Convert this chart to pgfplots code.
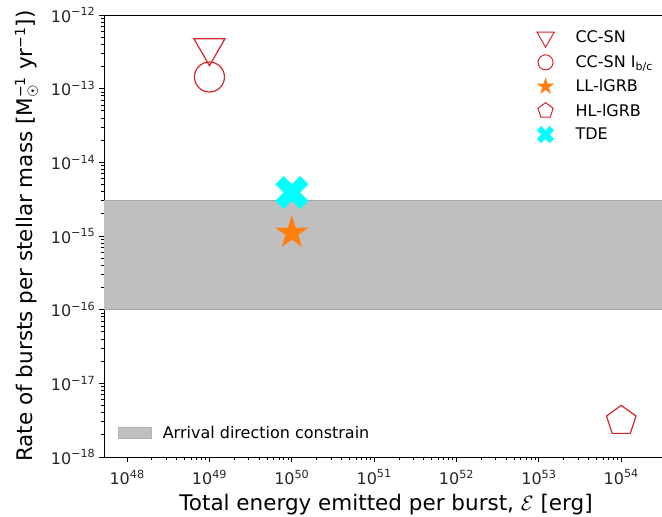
\documentclass[border=0pt]{standalone}
\usepackage{pgfplots}
\pgfplotsset{compat=1.18}
\usepackage{fontspec}
\setmainfont{DejaVu Sans}
\usetikzlibrary{plotmarks}
\definecolor{tabred}{HTML}{D62728}
\definecolor{taborange}{HTML}{FF7F0E}
\definecolor{cyanx}{HTML}{00FFFF}
\definecolor{bandgray}{HTML}{BFBFBF}
\pgfdeclareplotmark{fstar}{%
  \pgfpathmoveto{\pgfpointpolar{90}{\pgfplotmarksize}}%
  \pgfpathlineto{\pgfpointpolar{126}{0.382\pgfplotmarksize}}%
  \pgfpathlineto{\pgfpointpolar{162}{\pgfplotmarksize}}%
  \pgfpathlineto{\pgfpointpolar{198}{0.382\pgfplotmarksize}}%
  \pgfpathlineto{\pgfpointpolar{234}{\pgfplotmarksize}}%
  \pgfpathlineto{\pgfpointpolar{270}{0.382\pgfplotmarksize}}%
  \pgfpathlineto{\pgfpointpolar{306}{\pgfplotmarksize}}%
  \pgfpathlineto{\pgfpointpolar{342}{0.382\pgfplotmarksize}}%
  \pgfpathlineto{\pgfpointpolar{18}{\pgfplotmarksize}}%
  \pgfpathlineto{\pgfpointpolar{54}{0.382\pgfplotmarksize}}%
  \pgfpathclose
  \pgfusepathqfill
}
\pgfdeclareplotmark{fX}{%
  \pgfpathmoveto{\pgfpoint{-0.5\pgfplotmarksize}{-\pgfplotmarksize}}%
  \pgfpathlineto{\pgfpoint{0pt}{-0.5\pgfplotmarksize}}%
  \pgfpathlineto{\pgfpoint{0.5\pgfplotmarksize}{-\pgfplotmarksize}}%
  \pgfpathlineto{\pgfpoint{\pgfplotmarksize}{-0.5\pgfplotmarksize}}%
  \pgfpathlineto{\pgfpoint{0.5\pgfplotmarksize}{0pt}}%
  \pgfpathlineto{\pgfpoint{\pgfplotmarksize}{0.5\pgfplotmarksize}}%
  \pgfpathlineto{\pgfpoint{0.5\pgfplotmarksize}{\pgfplotmarksize}}%
  \pgfpathlineto{\pgfpoint{0pt}{0.5\pgfplotmarksize}}%
  \pgfpathlineto{\pgfpoint{-0.5\pgfplotmarksize}{\pgfplotmarksize}}%
  \pgfpathlineto{\pgfpoint{-\pgfplotmarksize}{0.5\pgfplotmarksize}}%
  \pgfpathlineto{\pgfpoint{-0.5\pgfplotmarksize}{0pt}}%
  \pgfpathlineto{\pgfpoint{-\pgfplotmarksize}{-0.5\pgfplotmarksize}}%
  \pgfpathclose
  \pgfusepathqfill
}
\newcommand{\sps}[1]{\mbox{\fontsize{14}{14}\selectfont #1}}
\newcommand{\lsub}[1]{\raisebox{-2.5pt}{\fontsize{11}{11}\selectfont #1}}
\begin{document}
\begin{tikzpicture}
\path[use as bounding box] (-104pt,-60pt) rectangle (558pt,457pt);
\begin{axis}[
  scale only axis, width=564pt, height=442pt,
  xmode=log, ymode=log,
  xmin=5.25e47, xmax=3.7e54,
  ymin=1e-18, ymax=1e-12,
  xtick={1e48,1e49,1e50,1e51,1e52,1e53,1e54},
  xticklabels={10\textsuperscript{48},10\textsuperscript{49},10\textsuperscript{50},10\textsuperscript{51},10\textsuperscript{52},10\textsuperscript{53},10\textsuperscript{54}},
  ytick={1e-18,1e-17,1e-16,1e-15,1e-14,1e-13,1e-12},
  yticklabels={10\textsuperscript{−18},10\textsuperscript{−17},10\textsuperscript{−16},10\textsuperscript{−15},10\textsuperscript{−14},10\textsuperscript{−13},10\textsuperscript{−12}},
  xtick pos=bottom, ytick pos=left,
  tick align=outside,
  major tick length=5pt, minor tick length=3pt,
  tick style={black, line width=0.8pt},
  every axis/.append style={line width=0.8pt},
  axis line style={black},
  ticklabel style={font=\fontsize{16}{18}\selectfont, text=black!85},
  xticklabel style={yshift=-4pt},
  xlabel={Total energy emitted per burst, $\mathcal{E}$ [erg]},
  ylabel={Rate of bursts per stellar mass [M$^{\sps{−1}}_{\sps{☉}}$ yr$^{\sps{−1}}$])},
  label style={font=\fontsize{21.5}{24}\selectfont, text=black},
  xlabel style={yshift=-3pt},
  ylabel style={yshift=6pt},
  legend style={at={(0.752,0.975)}, anchor=north west, draw=none, fill=none,
    font=\fontsize{16}{18}\selectfont, row sep=6.5pt,
    legend cell align=left},
  legend image code/.code={\path[draw=none, fill=none] (0pt,0pt) -- (42pt,0pt); \draw[#1] plot coordinates {(14pt,0pt)};},
  clip=true,
]
\addplot[forget plot, fill=bandgray, draw=black!35, line width=0.8pt]
  coordinates {(1e47,1e-16) (1e55,1e-16) (1e55,3e-15) (1e47,3e-15)} -- cycle;
% CC-SN
\addplot[forget plot, only marks, mark=triangle, mark size=18pt,
  mark options={rotate=180, draw=tabred, fill=none, line width=1.2pt}]
  coordinates {(1e49,3.6e-13)};
% CC-SN Ib/c
\addplot[forget plot, only marks, mark=o, mark size=15pt,
  mark options={draw=tabred, fill=none, line width=1.2pt}]
  coordinates {(1e49,1.44e-13)};
% LL-lGRB
\addplot[forget plot, only marks, mark=fstar, mark size=17.5pt,
  mark options={fill=taborange, draw=none}]
  coordinates {(1e50,1.1e-15)};
% HL-lGRB
\addplot[forget plot, only marks, mark=pentagon, mark size=15.5pt,
  mark options={draw=tabred, fill=none, line width=1.2pt}]
  coordinates {(1e54,3.1e-18)};
% TDE
\addplot[forget plot, only marks, mark=fX, mark size=16.5pt,
  mark options={fill=cyanx, draw=none}]
  coordinates {(1e50,3.9e-15)};
\addlegendimage{only marks, mark=triangle, mark size=10pt, mark options={rotate=180, draw=tabred, fill=none, line width=1pt}}
\addlegendentry{CC-SN}
\addlegendimage{only marks, mark=o, mark size=7.5pt, mark options={draw=tabred, fill=none, line width=1pt}}
\addlegendentry{CC-SN I\lsub{b/c}}
\addlegendimage{only marks, mark=fstar, mark size=9pt, mark options={fill=taborange, draw=none}}
\addlegendentry{LL-lGRB}
\addlegendimage{only marks, mark=pentagon, mark size=8pt, mark options={draw=tabred, fill=none, line width=1pt}}
\addlegendentry{HL-lGRB}
\addlegendimage{only marks, mark=fX, mark size=8.5pt, mark options={fill=cyanx, draw=none}}
\addlegendentry{TDE}
\end{axis}
\begin{axis}[
  scale only axis, width=564pt, height=442pt,
  hide axis, xmin=0, xmax=1, ymin=0, ymax=1,
  legend style={at={(0.02,0.03)}, anchor=south west, draw=none, fill=none,
    font=\fontsize{16}{18}\selectfont},
  legend image code/.code={\draw[#1] (0pt,-5.5pt) rectangle (33pt,5.5pt); \path[draw=none, fill=none] (0pt,0pt) -- (42pt,0pt);},
]
\addlegendimage{fill=bandgray, draw=black!30, line width=0.6pt}
\addlegendentry{Arrival direction constrain}
\end{axis}
\end{tikzpicture}
\end{document}
